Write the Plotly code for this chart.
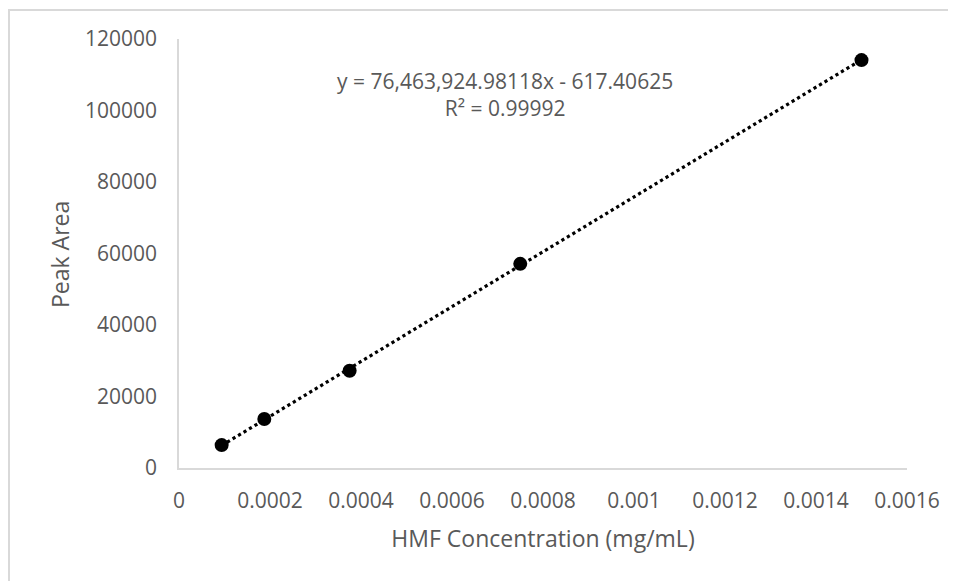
import numpy as np
import plotly.graph_objects as go

# Data
concentration = [0.00009375, 0.0001875, 0.000375, 0.00075, 0.0015]
peak_area = [6400, 13700, 27200, 57100, 114100]

x_tick_vals = [0, 0.0002, 0.0004, 0.0006, 0.0008, 0.001, 0.0012, 0.0014, 0.0016]
x_tick_text = ["0", "0.0002", "0.0004", "0.0006", "0.0008", "0.001", "0.0012", "0.0014", "0.0016"]
y_tick_vals = [0, 20000, 40000, 60000, 80000, 100000, 120000]
y_tick_text = ["0", "20000", "40000", "60000", "80000", "100000", "120000"]

x_title = "HMF Concentration (mg/mL)"
y_title = "Peak Area"
equation_text = "y = 76,463,924.98118x - 617.40625"
r2_text = "R² = 0.99992"

# Linear trendline from data
slope, intercept = np.polyfit(concentration, peak_area, 1)
trend_x = [min(concentration), max(concentration)]
trend_y = [slope * v + intercept for v in trend_x]

W, H = 956, 581
OFF = 8  # page offset of the figure
# target plot area in screen pixels: x 179..907, y 39..468
L, T = 179 - OFF, 39 - OFF
R = W + OFF - 907
B = H + OFF - 468
pw, ph = W - L - R, H - T - B

def px_x(sx):
    return (sx - OFF - L) / pw

def px_y(sy):
    return 1 - (sy - OFF - T) / ph

grey = "#595959"
font_family = "Open Sans, Liberation Sans, sans-serif"

fig = go.Figure()
fig.add_trace(go.Scatter(
    x=trend_x, y=trend_y, mode="lines",
    line=dict(color="black", width=3.2, dash="dot"),
    hoverinfo="skip", showlegend=False,
))
fig.add_trace(go.Scatter(
    x=concentration, y=peak_area, mode="markers",
    marker=dict(color="black", size=14),
    showlegend=False,
))

fig.update_layout(
    width=W, height=H,
    margin=dict(l=L, r=R, t=T, b=B),
    paper_bgcolor="white", plot_bgcolor="white",
    font=dict(family=font_family, color=grey, size=21),
    showlegend=False,
)
fig.update_xaxes(
    range=[0, 0.0016], tickvals=x_tick_vals, ticktext=x_tick_text,
    showgrid=False, zeroline=False, showline=True, linecolor="#d9d9d9", linewidth=1.5,
    ticks="", ticklabelstandoff=13,
    tickfont=dict(size=21, color=grey),
    title=dict(text=x_title, font=dict(size=23, color=grey), standoff=18),
)
fig.update_yaxes(
    range=[0, 120000], tickvals=y_tick_vals, ticktext=y_tick_text,
    showgrid=False, zeroline=False, showline=True, linecolor="#d9d9d9", linewidth=1.5,
    ticks="", ticklabelstandoff=16,
    tickfont=dict(size=21, color=grey),
)

# Y axis title placed as rotated text
fig.add_annotation(
    x=px_x(60), y=px_y(255), xref="paper", yref="paper",
    xanchor="center", yanchor="middle", textangle=-90,
    text=y_title, showarrow=False,
    font=dict(size=23, color=grey, family=font_family),
)

fig.add_annotation(
    x=px_x(505), y=px_y(94), xref="paper", yref="paper",
    xanchor="center", yanchor="middle",
    text=equation_text + "<br>" + r2_text, showarrow=False,
    font=dict(size=21, color=grey, family=font_family), align="center",
)

# Outer chart frame (top and left edges visible)
fig.add_shape(
    type="rect", xref="paper", yref="paper",
    x0=px_x(9), x1=px_x(W + 30),
    y0=px_y(H + 30), y1=px_y(10),
    line=dict(color="#d9d9d9", width=2), fillcolor="rgba(0,0,0,0)", layer="below",
)

fig.write_html("out.html")
